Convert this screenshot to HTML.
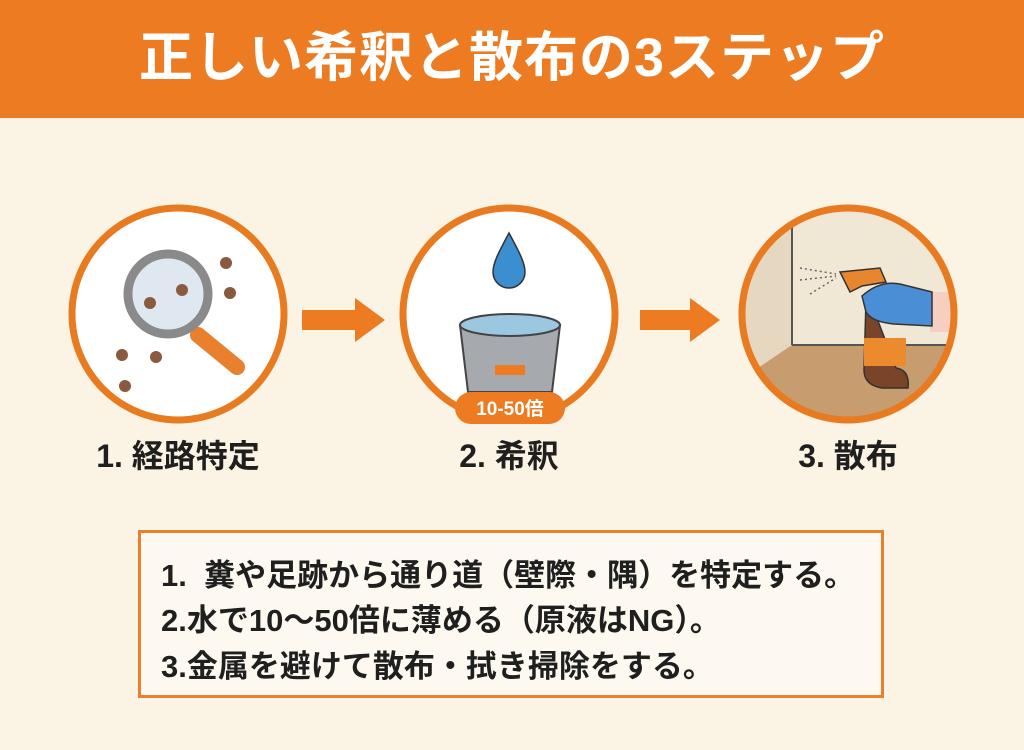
<!DOCTYPE html>
<html><head><meta charset="utf-8"><style>
body{margin:0;width:1024px;height:750px;background:#fbf3e3;font-family:"Liberation Sans","Noto Sans CJK JP",sans-serif;position:relative;overflow:hidden}
.hdr{position:absolute;left:0;top:0;width:1024px;height:118px;background:#ec7b22;color:#fff;font-weight:bold;font-size:54px;text-align:center;line-height:116px;letter-spacing:1px}
.lbl{position:absolute;top:431px;width:240px;text-align:center;font-size:32px;font-weight:bold;color:#1f1f1f}
.box{position:absolute;left:138px;top:530px;width:740px;height:162px;border:3px solid #e8802e;background:#fdf9f0}
.box div{position:absolute;left:20px;font-size:31px;font-weight:bold;color:#1f1f1f;white-space:nowrap}
</style></head><body>
<div class="hdr">正しい希釈と散布の3ステップ</div>
<svg width="1024" height="750" style="position:absolute;left:0;top:0">
<defs><clipPath id="c3"><circle cx="848" cy="314" r="104"/></clipPath></defs>
<circle cx="178" cy="314" r="106" fill="#fff" stroke="#e87a20" stroke-width="7"/>
<line x1="198" y1="335" x2="237" y2="367" stroke="#e8802e" stroke-width="16" stroke-linecap="round"/>
<circle cx="168" cy="294" r="40" fill="#dfe8f0" stroke="#8a8a8a" stroke-width="9"/>
<g fill="#8a5a40">
<circle cx="150" cy="303" r="6"/><circle cx="182" cy="290" r="6"/>
<circle cx="226" cy="263" r="6"/><circle cx="230" cy="293" r="6"/>
<circle cx="122" cy="355" r="6"/><circle cx="156" cy="357" r="6"/><circle cx="125" cy="386" r="6"/>
</g>
<polygon points="302,310 355,310 355,298 385,320 355,342 355,330 302,330" fill="#ec7b22"/>
<circle cx="509" cy="314" r="106" fill="#fff" stroke="#e87a20" stroke-width="7"/>
<path d="M509 233 C500 250 493 262 493 272 A16 16 0 0 0 525 272 C525 262 518 250 509 233Z" fill="#3b8fd0" stroke="#333" stroke-width="1.5"/>
<path d="M460 325 L468 392 L552 392 L560 325 Z" fill="#a6a9ad" stroke="#444" stroke-width="2"/>
<ellipse cx="510" cy="325" rx="50" ry="11" fill="#9cc7e0" stroke="#444" stroke-width="2"/>
<rect x="495" y="365" width="30" height="10" fill="#ec7b22"/>
<rect x="455" y="392" width="110" height="32" rx="16" fill="#ec7b22"/>
<text x="510" y="415" text-anchor="middle" fill="#fff" font-weight="bold" font-size="19">10-50倍</text>
<polygon points="640,310 690,310 690,298 720,320 690,342 690,330 640,330" fill="#ec7b22"/>
<g clip-path="url(#c3)">
<rect x="740" y="200" width="220" height="230" fill="#f1e7d5"/>
<rect x="740" y="200" width="52" height="230" fill="#e6d8c0"/>
<line x1="792" y1="200" x2="792" y2="345" stroke="#555" stroke-width="2"/>
<polygon points="740,380 792,345 960,345 960,430 740,430" fill="#c79c6e"/>
<line x1="792" y1="345" x2="960" y2="345" stroke="#555" stroke-width="2"/>
<rect x="930" y="292" width="30" height="40" fill="#f6cfc0"/>
</g>
<circle cx="848" cy="314" r="106" fill="none" stroke="#e87a20" stroke-width="7"/>
<path d="M866 300 L870 300 L896 368 Q910 370 908 388 L882 388 Q864 385 864 370 Z" fill="#7a4428" stroke="#333" stroke-width="1.5"/>
<rect x="864" y="338" width="42" height="28" fill="#ec8a2e"/>
<path d="M840 272 L880 268 L886 282 L862 286 L850 292Z" fill="#e8862e" stroke="#333" stroke-width="1.5"/>
<path d="M862 296 Q880 280 900 284 L932 292 L932 326 L894 324 Q872 322 866 312Z" fill="#4a8fd6" stroke="#333" stroke-width="1.5"/>
<g stroke="#666" stroke-width="1.5" stroke-dasharray="2 3"><line x1="800" y1="268" x2="836" y2="274"/><line x1="800" y1="280" x2="836" y2="276"/><line x1="810" y1="294" x2="836" y2="278"/></g>
</svg>
<div class="lbl" style="left:58px">1. 経路特定</div>
<div class="lbl" style="left:389px">2. 希釈</div>
<div class="lbl" style="left:728px">3. 散布</div>
<div class="box">
<div style="top:17px">1.&nbsp; 糞や足跡から通り道（壁際・隅）を特定する。</div>
<div style="top:62px">2.水で10〜50倍に薄める（原液はNG）。</div>
<div style="top:108px">3.金属を避けて散布・拭き掃除をする。</div>
</div>
</body></html>
